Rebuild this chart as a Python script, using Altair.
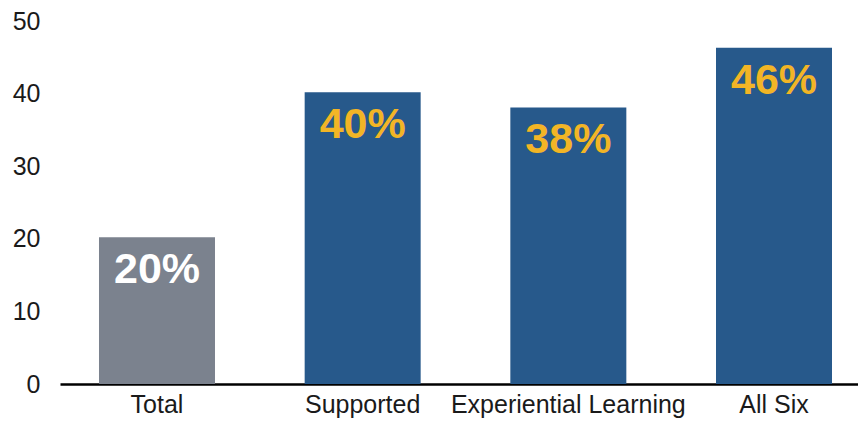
import altair as alt
import pandas as pd

categories = ["Total", "Supported", "Experiential Learning", "All Six"]
values = [20.2, 40.2, 38.1, 46.3]
labels = ["20%", "40%", "38%", "46%"]
groups = ["total", "sub", "sub", "sub"]
y_ticks = [0, 10, 20, 30, 40, 50]

df = pd.DataFrame({"category": categories, "value": values, "label": labels, "group": groups})

FONT = "Liberation Sans"

x = alt.X(
    "category:N",
    sort=categories,
    title=None,
    scale=alt.Scale(paddingInner=0.436, paddingOuter=0.158, align=0.6),
    axis=alt.Axis(labelAngle=0, labelFontSize=25, labelFont=FONT, labelColor="#1a1a1a", labelLimit=0,
                  domainColor="#000000", domainWidth=2.5, ticks=False, labelPadding=8, grid=False),
)
y = alt.Y(
    "value:Q",
    title=None,
    scale=alt.Scale(domain=[0, 50], nice=False),
    axis=alt.Axis(values=y_ticks, domain=False, ticks=False, grid=False, labelFontSize=25,
                  labelFont=FONT, labelColor="#1a1a1a", labelPadding=20),
)

bars = alt.Chart(df).mark_bar().encode(
    x=x,
    y=y,
    color=alt.Color("group:N", scale=alt.Scale(domain=["total", "sub"], range=["#7b828e", "#27598b"]), legend=None),
)

text = alt.Chart(df).mark_text(baseline="top", dy=12, fontSize=43, fontWeight="bold", font=FONT).encode(
    x=alt.X("category:N", sort=categories),
    y=alt.Y("value:Q"),
    text="label:N",
    color=alt.condition(alt.datum.group == "total", alt.value("#ffffff"), alt.value("#f2b526")),
)

chart = (
    alt.layer(bars, text)
    .properties(
        width=798,
        height=363,
        autosize=alt.AutoSizeParams(type="none"),
        padding={"left": 52, "top": 13, "right": 0, "bottom": 38},
    )
    .configure_view(stroke=None)
)

chart.save("out.html", embed_options={"renderer": "svg", "actions": False})
